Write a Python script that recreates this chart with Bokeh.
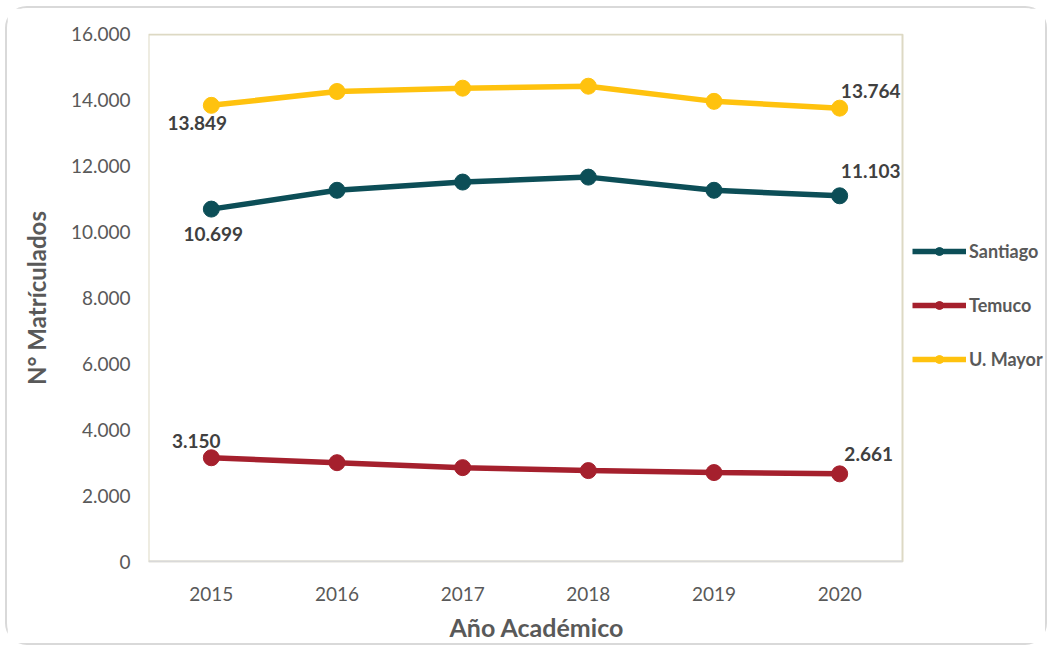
from bokeh.plotting import figure
from bokeh.models import (Range1d, FixedTicker, CustomJSTickFormatter,
                          Legend, LegendItem, ColumnDataSource, Title)
from bokeh.core.properties import value
from bokeh.embed import file_html
from bokeh.resources import INLINE

years = ["2015", "2016", "2017", "2018", "2019", "2020"]
santiago = [10699, 11270, 11520, 11670, 11270, 11103]
temuco = [3150, 3000, 2850, 2760, 2700, 2661]
umayor = [13849, 14270, 14370, 14430, 13970, 13764]
series_names = ["Santiago", "Temuco", "U. Mayor"]
series_colors = ["#0c4e57", "#a5202d", "#ffc20e"]
y_ticks = list(range(0, 16001, 2000))

# data labels (first and last point of each series)
label_year = ["2015", "2020", "2015", "2020", "2015", "2020"]
label_y = [13849, 13764, 10699, 11103, 3150, 2661]
label_text = ["13.849", "13.764", "10.699", "11.103", "3.150", "2.661"]
label_dx = [-14, 31, 2, 31, -15, 29]
label_dy = [18, -17, 25, -25, -17, -20]

FONT = "Lato"
GREY = "#595959"

W, H = 1042, 639
LEFT, RIGHT, TOP, BOTTOM = 141, 0, 25, 84
PLOT_W = 754          # width of the boxed plotting area in px
frame_w = W - LEFT - RIGHT
frame_h = H - TOP - BOTTOM
n = len(years)
x_end = -0.5 + n * frame_w / PLOT_W
ymax = y_ticks[-1]
pad = ymax / (frame_h - 2)

xi = list(range(n))
p = figure(width=W, height=H, x_range=Range1d(-0.5, x_end),
           y_range=Range1d(-pad, ymax + pad), output_backend="svg", toolbar_location=None,
           min_border_left=LEFT, min_border_right=RIGHT, min_border_top=TOP,
           min_border_bottom=BOTTOM)
p.styles = {"border": "2px solid #d9d9d9", "border-radius": "22px",
            "margin-left": "5px", "margin-top": "6px"}

p.xgrid.grid_line_color = None
p.ygrid.grid_line_color = None
p.outline_line_color = None

# plot-area box
p.quad(left=[-0.5], right=[n - 0.5], bottom=[0], top=[ymax], fill_color=None,
       line_color="#ddd9c4", line_width=2)
p.segment(x0=[-0.5], x1=[n - 0.5], y0=[0], y1=[0], line_color="#d9d9d9", line_width=2)

p.xaxis.ticker = FixedTicker(ticks=xi)
p.xaxis.major_label_overrides = {i: y for i, y in zip(xi, years)}
p.yaxis.ticker = FixedTicker(ticks=y_ticks)
p.yaxis.formatter = CustomJSTickFormatter(
    code="return tick.toFixed(0).replace(/\\B(?=(\\d{3})+(?!\\d))/g, '.');")
for ax in (p.xaxis, p.yaxis):
    ax.axis_line_color = None
    ax.major_tick_line_color = None
    ax.minor_tick_line_color = None
    ax.major_label_text_font = FONT
    ax.major_label_text_font_size = "19px"
    ax.major_label_text_color = GREY
    ax.axis_label_text_font = FONT
    ax.axis_label_text_font_size = "24px"
    ax.axis_label_text_font_style = "bold"
    ax.axis_label_text_color = GREY
p.yaxis.major_label_standoff = 12
p.xaxis.major_label_standoff = 18
p.yaxis.axis_label = "N° Matrículados"
p.yaxis.axis_label_standoff = 17

xtitle = Title(text="Año Académico", align="left", offset=301, standoff=12,
               text_font=FONT, text_font_size="25px", text_font_style="bold",
               text_color=GREY)
p.add_layout(xtitle, "below")

items = []
for name, vals, col in zip(series_names, [santiago, temuco, umayor], series_colors):
    src = ColumnDataSource(dict(x=xi, y=vals))
    l = p.line("x", "y", source=src, line_color=col, line_width=5.5)
    s = p.scatter("x", "y", source=src, size=16, fill_color=col, line_color=col)
    items.append(LegendItem(label=name, renderers=[l, s]))

label_x = [years.index(y) for y in label_year]
p.text(x=label_x, y=label_y, text=label_text, x_offset=label_dx, y_offset=label_dy,
       text_align="center", text_baseline="middle", text_font=value(FONT),
       text_font_style="bold", text_font_size="19px", text_color="#404040")

legend = Legend(items=items, location=(764, 192), orientation="vertical",
                glyph_width=54, glyph_height=20, label_height=20, spacing=32,
                padding=0, margin=0, label_standoff=3,
                label_text_font=FONT, label_text_font_size="18px",
                label_text_font_style="bold", label_text_color=GREY,
                background_fill_alpha=0, border_line_color=None)
p.add_layout(legend, "center")

open("out.html", "w").write(file_html(p, INLINE))
